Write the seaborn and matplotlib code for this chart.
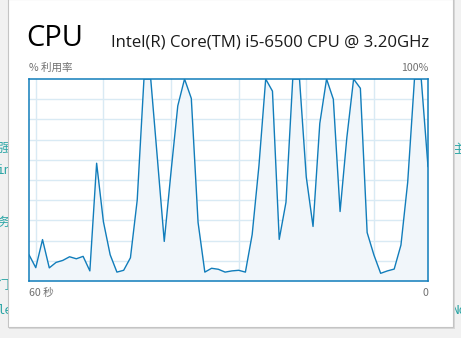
import numpy as np
import pandas as pd
import matplotlib
matplotlib.use("Agg")
import matplotlib.pyplot as plt
from matplotlib.patches import Rectangle
import seaborn as sns

# ---- data (CPU utilisation %, one sample per second, oldest first) ----
cpu_usage = [13, 6.6, 20.5, 6.5, 9.2, 10.2, 12, 11, 12.2, 5,
             58.3, 29.4, 13, 4.4, 5.3, 11.5, 40, 100, 100, 60,
             19.6, 54, 86.7, 100, 90.4, 29, 4.4, 6.3, 5.8, 4.4,
             5, 5.3, 4.4, 23, 57, 100, 94, 20.6, 39, 100,
             100, 51.5, 27, 78, 100, 90, 34.4, 71, 100, 95.4,
             24, 12.9, 3.8, 5, 5.9, 17.8, 49, 100, 100, 56.6]
title_text = "CPU"
model_text = "Intel(R) Core(TM) i5-6500 CPU @ 3.20GHz"
y_label_left = "% 利用率"
y_label_right = "100%"
x_label_left = "60 秒"
x_label_right = "0"

df = pd.DataFrame({"t": np.arange(len(cpu_usage)), "cpu": cpu_usage})

sns.set_theme(style="white")
plt.rcParams['font.family'] = ['Noto Sans CJK SC', 'DejaVu Sans']

W, H = 461, 338
fig = plt.figure(figsize=(W / 100, H / 100), dpi=100)
fig.patch.set_facecolor("#f1f1f1")

def fx(px):
    return px / W

def fy(py):
    return 1 - py / H

# background fragments (behind the window)
teal = "#2aa5a5"
for (px, py, s) in [(-3, 148, "强"), (-3, 171, "in"), (-3, 222, "务"),
                    (-3, 285, "门"), (-3, 310, "le"), (452, 150, "主"), (451, 311, "No")]:
    fig.text(fx(px), fy(py), s, fontsize=9, color=teal, va="center", ha="left",
             zorder=0, family=['DejaVu Sans Mono', 'Noto Sans CJK SC'])

# window
shadow = Rectangle((fx(9), fy(329)), fx(446), 329 / H, transform=fig.transFigure,
                   facecolor="#d8d8d8", edgecolor="none", zorder=1)
win = Rectangle((fx(8), fy(327)), fx(445), 328 / H, transform=fig.transFigure,
                facecolor="white", edgecolor="#c4c4c4", linewidth=0.8, zorder=2)
fig.patches.extend([shadow, win])

# plot area
ax = fig.add_axes([fx(29), fy(281), fx(399), (281 - 79) / H])
ax.set_zorder(5)
line_col = "#117dbb"
fill_col = "#f1f6fa"
grid_col = "#d9eaf4"

ax.fill_between(df["t"], df["cpu"], 0, color=fill_col, zorder=1, linewidth=0)
for v in range(10, 100, 10):
    ax.axhline(v, color=grid_col, linewidth=1.0, zorder=0.5)
for t in range(1, 60, 10):
    ax.axvline(t, color=grid_col, linewidth=1.0, zorder=0.5)
sns.lineplot(data=df, x="t", y="cpu", ax=ax, color=line_col, linewidth=1.0, zorder=3)

ax.set_xlim(0, len(cpu_usage) - 1)
ax.set_ylim(0, 100)
ax.set_xticks([])
ax.set_yticks([])
ax.set_xlabel("")
ax.set_ylabel("")
ax.set_facecolor("white")
for sp in ax.spines.values():
    sp.set_color(line_col)
    sp.set_linewidth(1.1)
    sp.set_visible(True)

# texts
gray = "#707070"
fig.text(fx(26), fy(46.5), title_text, fontsize=21, color="black", ha="left",
         va="baseline", zorder=6, family=['Open Sans', 'DejaVu Sans'])
fig.text(fx(429), fy(46.5), model_text, fontsize=12.1, color="#1a1a1a", ha="right",
         va="baseline", zorder=6, family=['Open Sans', 'DejaVu Sans'])
fig.text(fx(28.5), fy(71), y_label_left, fontsize=7.6, color=gray, ha="left",
         va="baseline", zorder=6)
fig.text(fx(428.5), fy(71), y_label_right, fontsize=7.6, color=gray, ha="right",
         va="baseline", zorder=6)
fig.text(fx(28.5), fy(296), x_label_left, fontsize=7.6, color=gray, ha="left",
         va="baseline", zorder=6)
fig.text(fx(428.5), fy(296), x_label_right, fontsize=7.6, color=gray, ha="right",
         va="baseline", zorder=6)

fig.savefig("out.png", dpi=100, facecolor=fig.get_facecolor())
